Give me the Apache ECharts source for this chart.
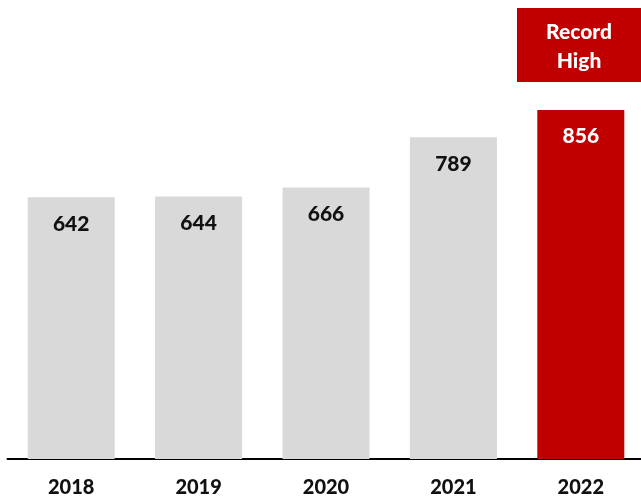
<!DOCTYPE html>
<html>
<head>
<meta charset="utf-8">
<script src="https://cdn.jsdelivr.net/npm/echarts@6/dist/echarts.min.js"></script>
<style>
  html, body { margin: 0; padding: 0; background: #fff; overflow: hidden; }
  /* the last category band runs slightly past the right edge of the page */
  #chart { width: 645px; height: 500px; }
</style>
</head>
<body>
<div id="chart"></div>
<script>
// Annual totals by year; the latest year is highlighted as a record
const years = ['2018', '2019', '2020', '2021', '2022'];
const totals = [642, 644, 666, 789, 856];
const highlightYear = '2022';
const badgeLines = ['Record', 'High'];

const GREY = '#d9d9d9';
const RED = '#c00000';
const FONT = 'Lato, "Open Sans", sans-serif';

const chart = echarts.init(document.getElementById('chart'), null, { renderer: 'canvas' });

const barData = years.map((y, i) => ({
  value: totals[i],
  itemStyle: { color: y === highlightYear ? RED : GREY },
  label: { color: y === highlightYear ? '#ffffff' : '#111111' }
}));

chart.setOption({
  animation: false,
  grid: { left: 7.5, width: 637, top: 51.3, bottom: 41, containLabel: false },
  xAxis: {
    type: 'category',
    data: years,
    axisLine: { show: true, lineStyle: { color: '#000', width: 2 } },
    axisTick: { show: false },
    axisLabel: {
      margin: 19,
      color: '#111',
      fontSize: 20,
      fontWeight: 900,
      fontFamily: FONT
    }
  },
  yAxis: {
    type: 'value',
    min: 0,
    max: 1000,
    show: false,
    splitLine: { show: false }
  },
  series: [{
    type: 'bar',
    data: barData,
    barWidth: 87,
    label: {
      show: true,
      position: 'insideTop',
      distance: 16,
      fontSize: 21,
      fontWeight: 900,
      fontFamily: FONT
    }
  }],
  graphic: [{
    type: 'group',
    left: 517,
    top: 8,
    children: [
      { type: 'rect', shape: { x: 0, y: 0, width: 124, height: 74 }, style: { fill: RED } },
      {
        type: 'text',
        x: 62, y: 39,
        style: {
          text: badgeLines.join('\n'),
          fill: '#fff',
          font: '900 21px ' + FONT,
          align: 'center',
          verticalAlign: 'middle',
          lineHeight: 29
        }
      }
    ]
  }]
});
</script>
</body>
</html>
